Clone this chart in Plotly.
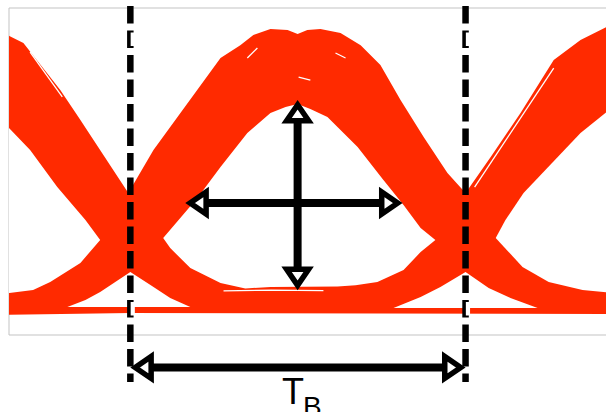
import plotly.graph_objects as go

# ---------------- eye diagram data (time in UI, amplitude normalised) ----------------
# upper outline of the overlaid trace cloud, left to right
upper_t = [-0.40, -0.361, -0.319, -0.269, -0.209, -0.149, -0.090, -0.045, -0.006,
           0.069, 0.140, 0.209, 0.269, 0.328, 0.367, 0.418, 0.469, 0.499, 0.528,
           0.567, 0.627, 0.687, 0.746, 0.806, 0.875, 0.946, 1.000, 1.075, 1.164,
           1.263, 1.343, 1.421, 1.46]
upper_a = [0.990, 0.979, 0.954, 0.879, 0.786, 0.679, 0.571, 0.493, 0.418,
           0.571, 0.689, 0.804, 0.900, 0.946, 0.982, 1.004, 1.000, 0.986, 1.000,
           1.004, 0.989, 0.946, 0.875, 0.750, 0.618, 0.489, 0.418, 0.546, 0.704,
           0.893, 0.964, 1.011, 1.020]
# lower outline of the trace cloud, right to left
lower_t = [1.46, 1.0, 0.5, 0.0, -0.40]
lower_a = [-0.014, -0.013, -0.011, -0.011, -0.018]

# open eyes (no trace passes through these regions)
eye_left_t = [-0.418, -0.361, -0.299, -0.218, -0.134, -0.090, -0.149, -0.239, -0.290, -0.361, -0.418]
eye_left_a = [0.720, 0.650, 0.571, 0.439, 0.321, 0.250, 0.168, 0.100, 0.071, 0.061, 0.054]

eye_mid_t = [0.098, 0.134, 0.200, 0.269, 0.349, 0.418, 0.463, 0.499, 0.537, 0.588, 0.678,
             0.755, 0.815, 0.866, 0.910, 0.866, 0.815, 0.737, 0.672, 0.618, 0.499, 0.418,
             0.343, 0.269, 0.179, 0.119]
eye_mid_a = [0.257, 0.307, 0.400, 0.511, 0.632, 0.704, 0.725, 0.736, 0.718, 0.689, 0.582,
             0.464, 0.375, 0.293, 0.250, 0.207, 0.143, 0.100, 0.088, 0.084, 0.084, 0.082,
             0.077, 0.096, 0.150, 0.221]

eye_right_t = [1.090, 1.119, 1.173, 1.343, 1.421, 1.478, 1.478, 1.421, 1.349, 1.248, 1.170]
eye_right_a = [0.257, 0.321, 0.418, 0.632, 0.707, 0.757, 0.057, 0.064, 0.071, 0.100, 0.154]

# empty pockets below the crossing points
gap_left_t = [0.0, 0.030, 0.060, 0.119, 0.179, -0.188, -0.134, -0.090, -0.045]
gap_left_a = [0.136, 0.114, 0.089, 0.043, 0.011, 0.011, 0.036, 0.064, 0.100]
gap_right_t = [1.0, 1.069, 1.134, 1.215, 0.785, 0.866, 0.925]
gap_right_a = [0.136, 0.079, 0.043, 0.007, 0.007, 0.046, 0.082]

# sparse gaps between individual traces inside the cloud
streaks = [
    ([-0.299, -0.203], [0.921, 0.761]),
    ([1.027, 1.263], [0.439, 0.864]),
    ([0.349, 0.379], [0.900, 0.936]),
    ([0.612, 0.642], [0.918, 0.900]),
    ([0.502, 0.537], [0.832, 0.821]),
    ([0.278, 0.420, 0.576], [0.068, 0.071, 0.069]),
]

# ---------------- measurement annotations ----------------
crossings = [0.0, 1.0]              # bit boundaries
eye_width_t = [0.164, 0.812]        # horizontal eye opening
eye_width_a = 0.382
eye_height_t = 0.499                # vertical eye opening
eye_height_a = [0.750, 0.071]
period_a = -0.205                   # level of the bit-period arrow
period_label = "T"
period_sub = "B"

# ---------------- geometry / style ----------------
RED = "#ff2a00"
W, H = 606, 412
M = dict(l=9, r=0, t=8, b=77)
X_RANGE = [-0.362, 1.419]
Y_RANGE = [-0.0893, 1.0786]
PW = W - M["l"] - M["r"]
PH = H - M["t"] - M["b"]
PX_X = PW / (X_RANGE[1] - X_RANGE[0])   # pixels per UI
PX_Y = PH / (Y_RANGE[1] - Y_RANGE[0])   # pixels per amplitude unit


def to_paper(a):
    return (a - Y_RANGE[0]) / (Y_RANGE[1] - Y_RANGE[0])


def head(x, y, ux, uy, paper=False):
    """Open arrowhead whose outer tip sits at (x, y); (ux, uy) points into the shaft."""
    sy = PH if paper else PX_Y
    m, l, h = 4.8, 16.0, 11.0
    px, py = x + ux * m / PX_X, y + uy * m / sy
    bx, by = x + ux * (m + l) / PX_X, y + uy * (m + l) / sy
    c1 = (bx - uy * h / PX_X, by + ux * h / sy)
    c2 = (bx + uy * h / PX_X, by - ux * h / sy)
    path = f"M {px},{py} L {c1[0]},{c1[1]} L {c2[0]},{c2[1]} Z"
    shape = dict(type="path", path=path, xref="x", yref="paper" if paper else "y",
                 fillcolor="white", line=dict(color="black", width=5.5))
    return shape, (bx, by)


def double_arrow(x0, y0, x1, y1, paper=False):
    length = ((x1 - x0) ** 2 + (y1 - y0) ** 2) ** 0.5
    ux, uy = (x1 - x0) / length, (y1 - y0) / length
    h0, b0 = head(x0, y0, ux, uy, paper)
    h1, b1 = head(x1, y1, -ux, -uy, paper)
    shaft = dict(type="line", xref="x", yref="paper" if paper else "y",
                 x0=b0[0], y0=b0[1], x1=b1[0], y1=b1[1],
                 line=dict(color="black", width=8))
    return [shaft, h0, h1]


fig = go.Figure()

fig.add_trace(go.Scatter(x=upper_t + lower_t, y=upper_a + lower_a, fill="toself",
                         fillcolor=RED, mode="lines", line=dict(width=0, color=RED),
                         hoverinfo="skip", showlegend=False))
for tx, ta in [(eye_left_t, eye_left_a), (eye_mid_t, eye_mid_a), (eye_right_t, eye_right_a),
               (gap_left_t, gap_left_a), (gap_right_t, gap_right_a)]:
    fig.add_trace(go.Scatter(x=tx, y=ta, fill="toself", fillcolor="white", mode="lines",
                             line=dict(width=0, color="white"), hoverinfo="skip",
                             showlegend=False))
for sx, sa in streaks:
    fig.add_trace(go.Scatter(x=sx, y=sa, mode="lines", line=dict(width=1.3, color="white"),
                             hoverinfo="skip", showlegend=False))

shapes = [dict(type="rect", xref="paper", yref="paper", x0=0, x1=1.02, y0=0, y1=1,
               line=dict(color="#c3c3c3", width=1), layer="below")]

# eye width / eye height / bit period arrows
shapes += double_arrow(eye_width_t[0], eye_width_a, eye_width_t[1], eye_width_a)
shapes += double_arrow(eye_height_t, eye_height_a[0], eye_height_t, eye_height_a[1])
pa = to_paper(period_a)
shapes += double_arrow(crossings[0], pa, crossings[1], pa, paper=True)

# dashed bit-boundary lines
for c in crossings:
    shapes.append(dict(type="line", xref="x", yref="paper", x0=c, x1=c,
                       y0=1 + 2 / PH, y1=-47 / PH,
                       line=dict(color="black", width=6.5, dash="17.5px,7px")))
    for k in (1, 12):
        top = -2 + 24.5 * k   # pixels below plot top
        shapes.append(dict(type="rect", xref="x", yref="paper",
                           x0=c + 0.3 / PX_X, x1=c + 4.5 / PX_X,
                           y0=1 - (top + 2) / PH, y1=1 - (top + 15.5) / PH,
                           fillcolor="white", line=dict(width=0)))

annotations = [
    dict(text=period_label, x=0.485, xref="x", y=-0.1046, yref="paper",
         xanchor="center", yanchor="top", showarrow=False,
         font=dict(family="Liberation Sans, Arial", size=36, color="black")),
    dict(text=period_sub, x=0.543, xref="x", y=-0.1642, yref="paper",
         xanchor="center", yanchor="top", showarrow=False,
         font=dict(family="Liberation Sans, Arial", size=28, color="black")),
]

fig.update_layout(
    width=W, height=H, margin=M,
    paper_bgcolor="white", plot_bgcolor="white",
    xaxis=dict(range=X_RANGE, visible=False, fixedrange=True),
    yaxis=dict(range=Y_RANGE, visible=False, fixedrange=True),
    shapes=shapes, annotations=annotations, showlegend=False,
)

fig.write_html("out.html")
